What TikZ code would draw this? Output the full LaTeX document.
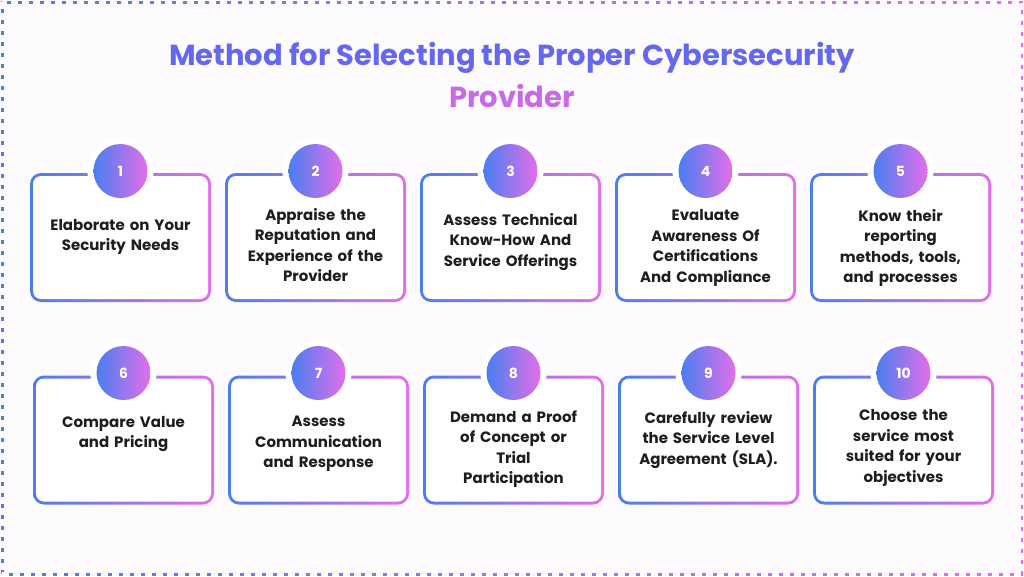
\documentclass[tikz,border=0pt]{standalone}
\usepackage{fontspec}
\setmainfont{Poppins}
\begin{document}
\definecolor{cb}{HTML}{4A7EF0}
\definecolor{cp}{HTML}{E46EEA}
\definecolor{tb}{HTML}{6468F0}
\definecolor{tp}{HTML}{C86AE8}
\definecolor{ink}{HTML}{1E1E1E}
\definecolor{bg}{HTML}{FDFBFD}
\begin{tikzpicture}[x=1pt,y=-1pt,
  outer/.style={minimum width=181pt,minimum height=129pt,rounded corners=11pt,left color=cb,right color=cp,inner sep=0pt},
  inner/.style={minimum width=175pt,minimum height=123pt,rounded corners=8pt,fill=white,inner sep=0pt},
  txt/.style={inner sep=0pt,align=center,font=\bfseries\fontsize{15}{20.5}\selectfont,text=ink,text width=170pt},
  ring/.style={circle,fill=white,minimum size=66pt,inner sep=0pt},
  num/.style={circle,left color=cb,right color=cp,minimum size=54pt,inner sep=0pt,text=white,font=\bfseries\fontsize{14}{16}\selectfont}]
\useasboundingbox (0,0) rectangle (1024,576);
\shade[left color=cb,right color=cp] (1,1) rectangle (1023,575);
\fill[bg] (3.5,3.5) rectangle (1020.5,572.5);
\draw[bg,line width=4pt,dash pattern=on 7pt off 4pt] (2,2) rectangle (1022,574);
\node[font=\bfseries\fontsize{29}{36}\selectfont,text=tb] (t1) at (512,58) {Method for Selecting the Proper Cybersecurity};
\node[font=\bfseries\fontsize{29}{36}\selectfont,text=tp] (t2) at (512,96) {Provider};
\foreach \i/\dy/\t in {1/0/{Elaborate on Your\\Security Needs},2/8/{Appraise the\\Reputation and\\Experience of the\\Provider},3/5/{Assess Technical\\Know-How And\\Service Offerings},4/11/{Evaluate\\Awareness Of\\Certifications\\And Compliance},5/11/{Know their\\reporting\\methods, tools,\\and processes}}{
  \pgfmathsetmacro\cx{120.5+195*(\i-1)}
  \node[outer] (o\i) at (\cx,237.5) {};
  \node[inner] (b\i) at (o\i) {};
  \node[txt] (x\i) at (\cx,237+\dy) {\t};
  \node[ring] (r\i) at (\cx,171) {};
  \node[num] (n\i) at (r\i) {\i};
}
\foreach \i/\dy/\t in {6/-6/{Compare Value\\and Pricing},7/4/{Assess\\Communication\\and Response},8/9/{Demand a Proof\\of Concept or\\Trial\\Participation},9/0/{Carefully review\\the Service Level\\Agreement (SLA).},10/8/{Choose the\\service most\\suited for your\\objectives}}{
  \pgfmathsetmacro\cx{123.5+195*(\i-6)}
  \node[outer] (o\i) at (\cx,440) {};
  \node[inner] (b\i) at (o\i) {};
  \node[txt] (x\i) at (\cx,440+\dy) {\t};
  \node[ring] (r\i) at (\cx,373) {};
  \node[num] (n\i) at (r\i) {\i};
}
\end{tikzpicture}
\end{document}
